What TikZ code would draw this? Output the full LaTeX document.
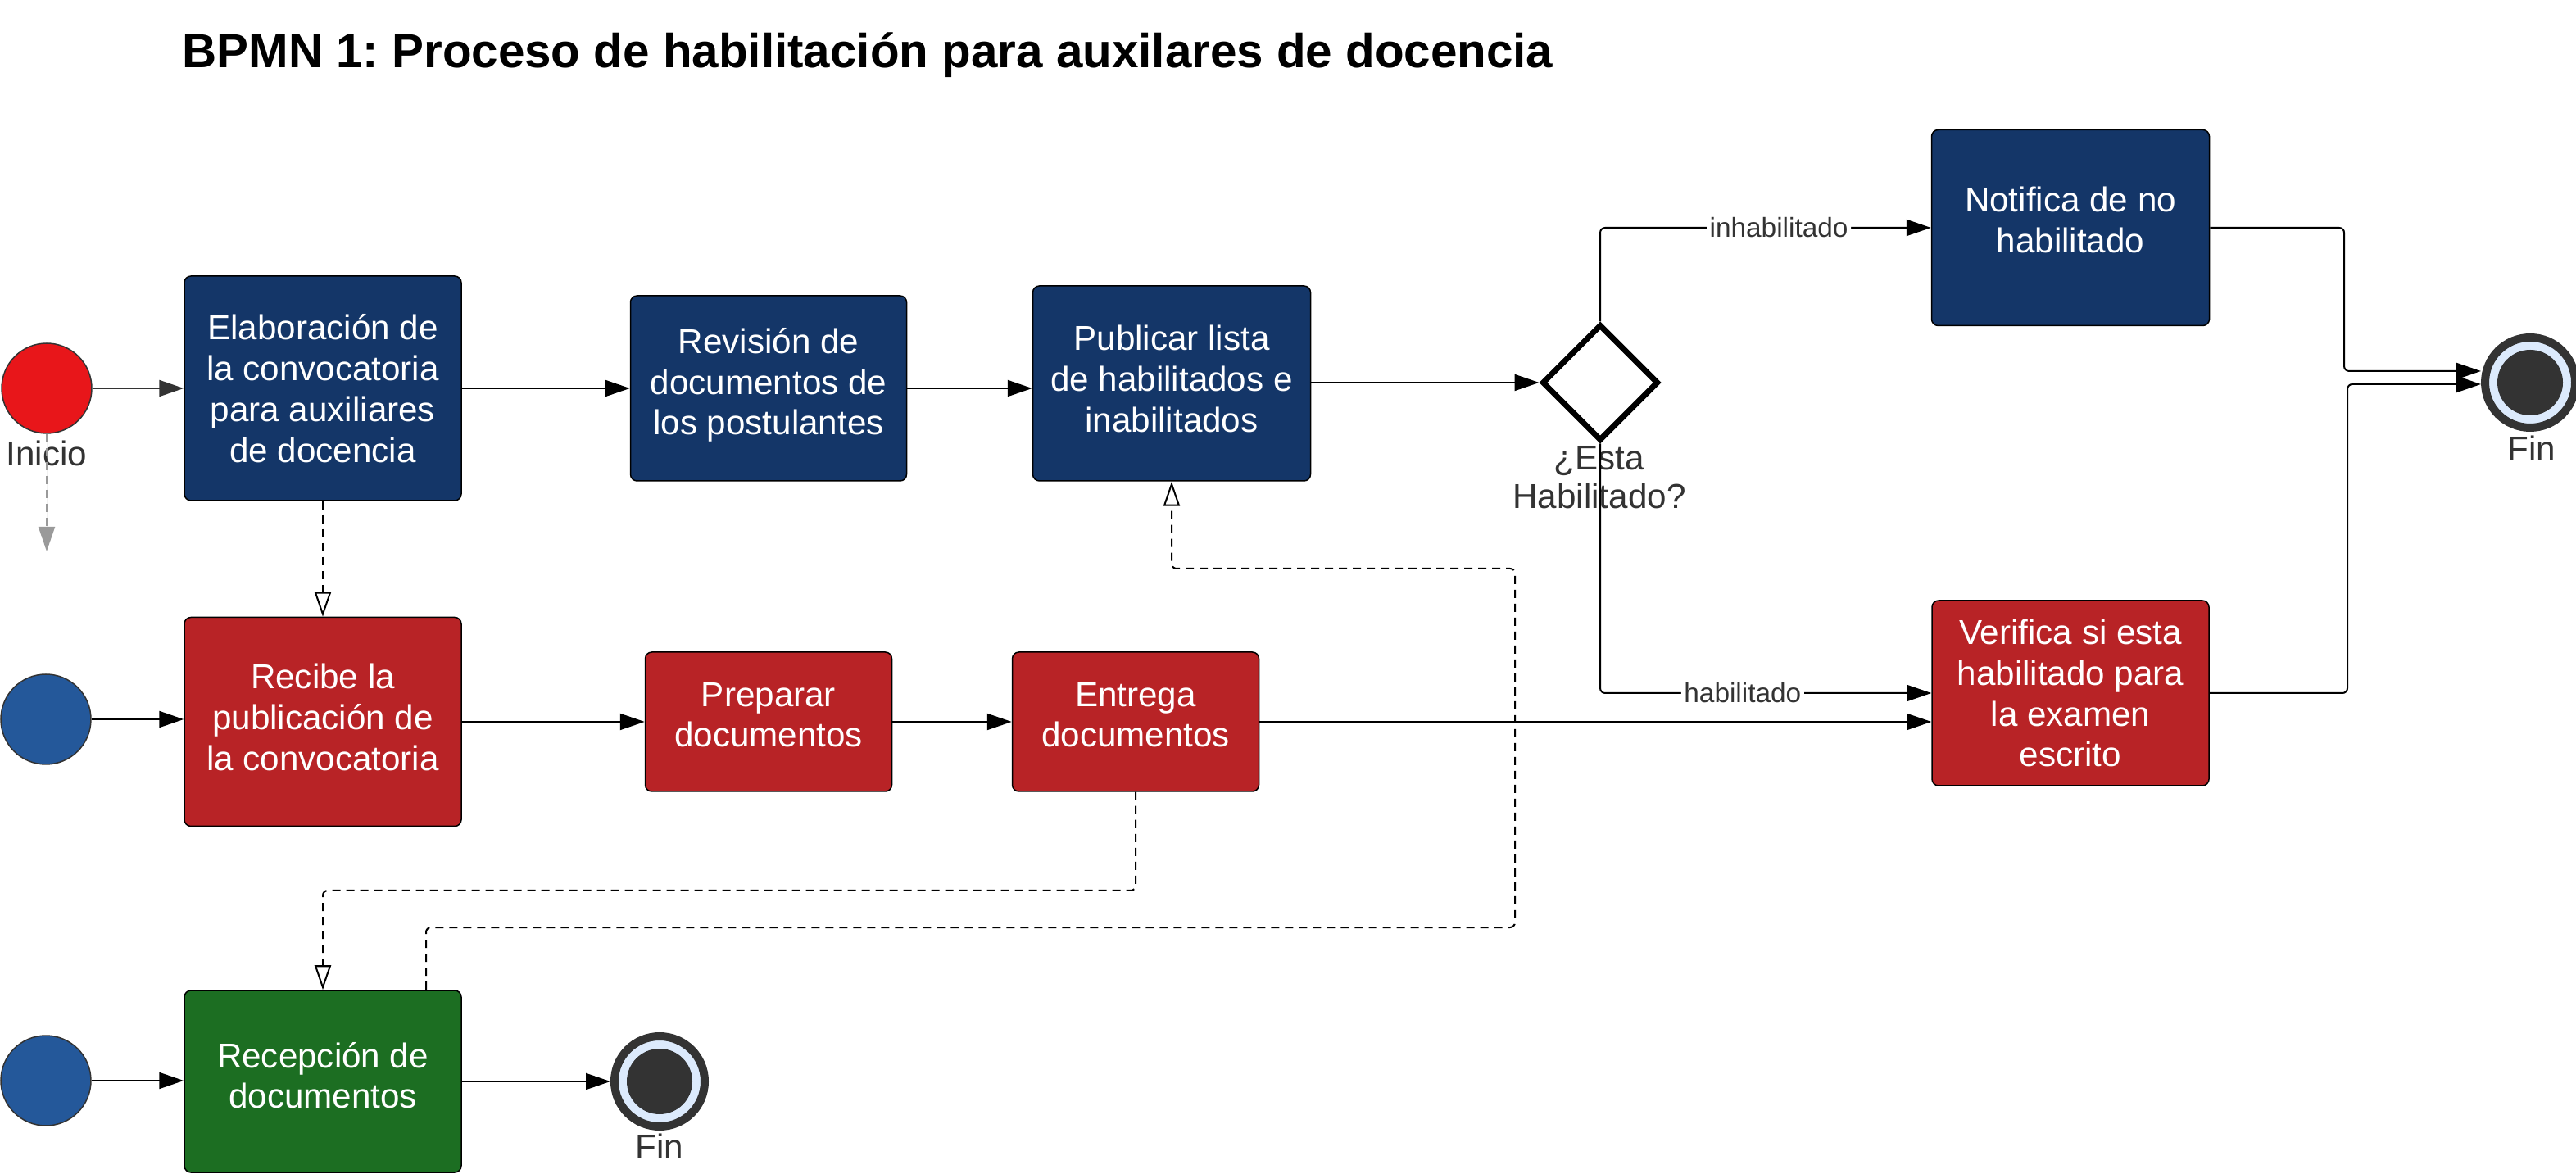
\documentclass[tikz,border=0pt]{standalone}
\usepackage{fontspec}
\setmainfont{Liberation Sans}
\usetikzlibrary{arrows.meta, calc, positioning, shapes.geometric}
\frenchspacing

\definecolor{azul}{HTML}{143668}
\definecolor{rojo}{HTML}{B82326}
\definecolor{verde}{HTML}{1C6E22}
\definecolor{rojoinicio}{HTML}{E8161A}
\definecolor{azulinicio}{HTML}{24589A}
\definecolor{gris}{HTML}{333333}
\definecolor{grisclaro}{HTML}{9A9A9A}
\definecolor{celeste}{HTML}{DCEAFC}

\begin{document}
\begin{tikzpicture}[
        tarea/.style={rectangle, draw=black, line width=0.015cm, rounded corners=0.08cm,
                    text=white, align=center, inner sep=0pt,
                    font=\fontsize{12}{14.2}\selectfont},
        evinicio/.style={circle, draw=gris, line width=0.015cm,
                    minimum size=1.1cm, inner sep=0pt},
        evfin/.style={circle, draw=gris, line width=0.1cm, fill=celeste,
                    minimum size=1.1cm, inner sep=0pt,
                    path picture={\fill[gris] (path picture bounding box.center) circle (0.4cm);}},
        compuerta/.style={diamond, draw=black, line width=0.07cm,
                    minimum width=1.42cm, minimum height=1.42cm, inner sep=0pt},
        etiqueta/.style={text=gris, align=center, font=\fontsize{12}{13.4}\selectfont},
        rotulo/.style={fill=white, inner sep=1pt, text=gris, font=\fontsize{9.5}{11}\selectfont},
        flujo/.style={-{Triangle[length=0.3cm, width=0.2cm]}, line width=0.02cm,
                    rounded corners=0.06cm},
        mensaje/.style={-{Triangle[open, length=0.3cm, width=0.2cm]}, line width=0.02cm,
                    dash pattern=on 0.1cm off 0.07cm, rounded corners=0.06cm},
    ]
    \useasboundingbox (0, 0) rectangle (31.44, -14.33);

    % titulo
    \node[anchor=base west, font=\fontsize{16.6}{19}\selectfont\bfseries] (titulo)
        at (2.10, -0.83) {BPMN 1: Proceso de habilitación para auxilares de docencia};

    % carril 1 (azul)
    \node[evinicio, fill=rojoinicio] (inicio) at (0.57, -4.74) {};
    \node[etiqueta] (inicioTxt) at (0.57, -5.53) {Inicio};
    \node[tarea, fill=azul, minimum width=3.38cm, minimum height=2.74cm] (elab) at (3.94, -4.74)
        {Elaboración de\\la convocatoria\\para auxiliares\\de docencia};
    \node[tarea, fill=azul, minimum width=3.37cm, minimum height=2.26cm, text depth=0.17cm]
        (revision) at (9.38, -4.74) {Revisión de\\documentos de\\los postulantes};
    \node[tarea, fill=azul, minimum width=3.39cm, minimum height=2.38cm, text depth=0.12cm]
        (publicar) at (14.30, -4.68) {Publicar lista\\de habilitados e\\inabilitados};
    \node[etiqueta] (gwTxt) at (19.52, -5.83) {¿Esta\\Habilitado?};
    \node[compuerta] (gw) at (19.53, -4.67) {};
    \node[tarea, fill=azul, minimum width=3.39cm, minimum height=2.39cm, text depth=0.2cm]
        (notifica) at (25.27, -2.78) {Notifica de no\\habilitado};
    \node[evfin] (fin) at (30.88, -4.67) {};
    \node[etiqueta] (finTxt) at (30.90, -5.47) {Fin};

    % carril 2 (rojo)
    \node[evinicio, fill=azulinicio] (inicio2) at (0.56, -8.78) {};
    \node[tarea, fill=rojo, minimum width=3.38cm, minimum height=2.55cm, text depth=0.12cm]
        (recibe) at (3.94, -8.81) {Recibe la\\publicación de\\la convocatoria};
    \node[tarea, fill=rojo, minimum width=3.01cm, minimum height=1.70cm, text depth=0.17cm]
        (preparar) at (9.38, -8.81) {Preparar\\documentos};
    \node[tarea, fill=rojo, minimum width=3.01cm, minimum height=1.70cm, text depth=0.17cm]
        (entrega) at (13.86, -8.81) {Entrega\\documentos};
    \node[tarea, fill=rojo, minimum width=3.38cm, minimum height=2.26cm] (verifica) at (25.27, -8.46)
        {Verifica si esta\\habilitado para\\la examen\\escrito};

    % carril 3 (verde)
    \node[evinicio, fill=azulinicio] (inicio3) at (0.56, -13.19) {};
    \node[tarea, fill=verde, minimum width=3.38cm, minimum height=2.22cm, text depth=0.15cm]
        (recepcion) at (3.94, -13.20) {Recepción de\\documentos};
    \node[evfin] (fin2) at (8.05, -13.20) {};
    \node[etiqueta] (fin2Txt) at (8.05, -13.99) {Fin};

    % puntos de paso
    \coordinate (inicioBaja) at (0.57, -6.73);
    \coordinate (codoN) at (28.61, -4.53);
    \coordinate (codoV) at (28.65, -4.69);
    \coordinate (codoE) at (3.94, -10.87);
    \coordinate (salida) at ($(recepcion.north)+(1.26, 0)$);
    \coordinate (codoR1) at (18.49, -11.32);
    \coordinate (codoR2) at (14.30, -6.94);

    % flechas de secuencia
    \draw[flujo, draw=grisclaro, fill=grisclaro, dash pattern=on 0.1cm off 0.07cm]
        (inicio.south) -- (inicioBaja);
    \draw[flujo, draw=gris, fill=gris] (inicio.east) -- (elab.west);
    \draw[flujo] (elab.east) -- (revision.west);
    \draw[flujo] (revision.east) -- (revision.east -| publicar.west);
    \draw[flujo] (publicar.east |- gw.west) -- (gw.west);
    \draw[flujo] (gw.north) |- (notifica.west)
        node[rotulo, pos=0.77] {inhabilitado};
    \draw[flujo] (gw.south) |- (verifica.west)
        node[rotulo, pos=0.715] {habilitado};
    \draw[flujo] (notifica.east) -| (codoN) -- (codoN -| fin.west);
    \draw[flujo] (verifica.east) -| (codoV) -- (codoV -| fin.west);

    \draw[flujo] (inicio2.east) -- (inicio2.east -| recibe.west);
    \draw[flujo] (recibe.east) -- (preparar.west);
    \draw[flujo] (preparar.east) -- (entrega.west);
    \draw[flujo] (entrega.east) -- (entrega.east -| verifica.west);

    \draw[flujo] (inicio3.east) -- (inicio3.east -| recepcion.west);
    \draw[flujo] (recepcion.east) -- (fin2.west);

    % flujos de mensaje
    \draw[mensaje] (elab.south) -- (recibe.north);
    \draw[mensaje] (entrega.south) |- (codoE) -- (recepcion.north);
    \draw[mensaje] (salida) |- (codoR1) |- (codoR2) -- (publicar.south);

\end{tikzpicture}
\end{document}
